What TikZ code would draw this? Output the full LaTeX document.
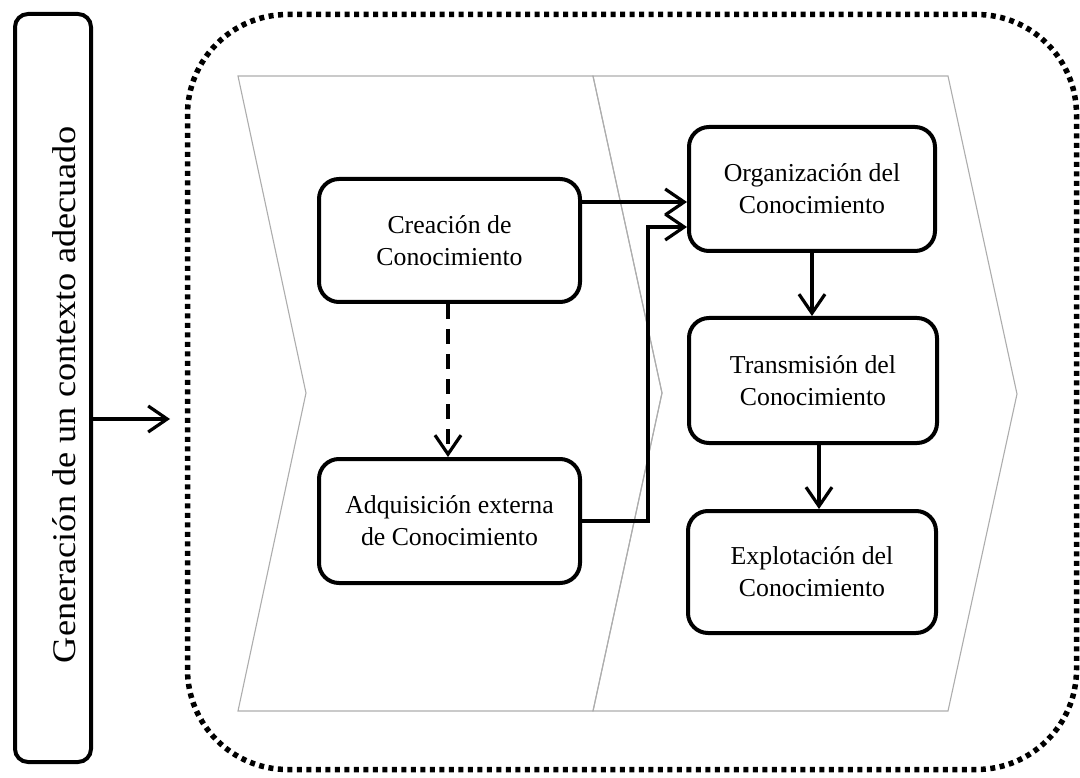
\documentclass[tikz,border=0pt]{standalone}
\usepackage{fontspec}
\setmainfont{Liberation Serif}
\usetikzlibrary{arrows.meta,calc}
\begin{document}
\begin{tikzpicture}[x=1pt,y=-1pt,
  txt/.style={font=\fontsize{25.8}{32}\selectfont, align=center},
  box/.style={txt, draw, line width=4pt, rounded corners=20pt, inner sep=0pt},
  chev/.style={draw=black!32, line width=1.1pt, line join=miter},
  arr/.style={line width=3.2pt, -{Straight Barb[length=19pt,width=26pt]}},
  dasharr/.style={arr, dash pattern=on 15pt off 10pt},
  frame/.style={draw, line width=5.5pt, dash pattern=on 5pt off 4.5pt, rounded corners=100pt, inner sep=0pt}
]
\useasboundingbox (0,0) rectangle (1080,778);

% outer dotted container
\node[frame, minimum width=889pt, minimum height=755pt] (frm) at (632,392) {};

% chevrons
\draw[chev] (238,76) -- (593,76) -- (662,393) -- (593,711) -- (238,711) -- (306,393) -- cycle;
\draw[chev] (593,76) -- (948,76) -- (1017,394) -- (948,711) -- (593,711) -- (662,393) -- cycle;

% left box
\node[box, rounded corners=13pt, minimum width=76pt, minimum height=748pt] (gen) at (53,388) {};
\node[font=\fontsize{33}{40}\selectfont, rotate=90, inner sep=0pt] (gentxt) at (64,395) {\scalebox{1.1}[1]{Generación de un contexto adecuado}};

% boxes
\node[box, minimum width=261pt, minimum height=123pt] (crea) at (449.5,240.5) {Creación de\\Conocimiento};
\node[box, minimum width=261pt, minimum height=124pt] (adq) at (449.5,521) {Adquisición externa\\de Conocimiento};
\node[box, minimum width=246pt, minimum height=124pt] (org) at (812,189) {Organización del\\Conocimiento};
\node[box, minimum width=248pt, minimum height=125pt] (trans) at (813,380.5) {Transmisión del\\Conocimiento};
\node[box, minimum width=248pt, minimum height=122pt] (expl) at (812,572) {Explotación del\\Conocimiento};

% connectors
\coordinate (gtip) at (170,419);
\draw[arr] (gtip -| gen.east) -- (gtip);

\draw[dasharr] ([xshift=-1.5pt]crea.south) -- ([xshift=-1.5pt]crea.south |- adq.north);

\coordinate (c1) at (582,202);
\draw[arr] (c1 -| crea.east) -- (c1 -| org.west);

\coordinate (bend) at (648,227);
\draw[arr, line join=miter] (adq.east) -| (bend) -- (bend -| org.west);

\draw[arr] (org.south) -- (org.south |- trans.north);
\draw[arr] ([xshift=6pt]trans.south) -- ([xshift=6pt]trans.south |- expl.north);
\end{tikzpicture}
\end{document}
